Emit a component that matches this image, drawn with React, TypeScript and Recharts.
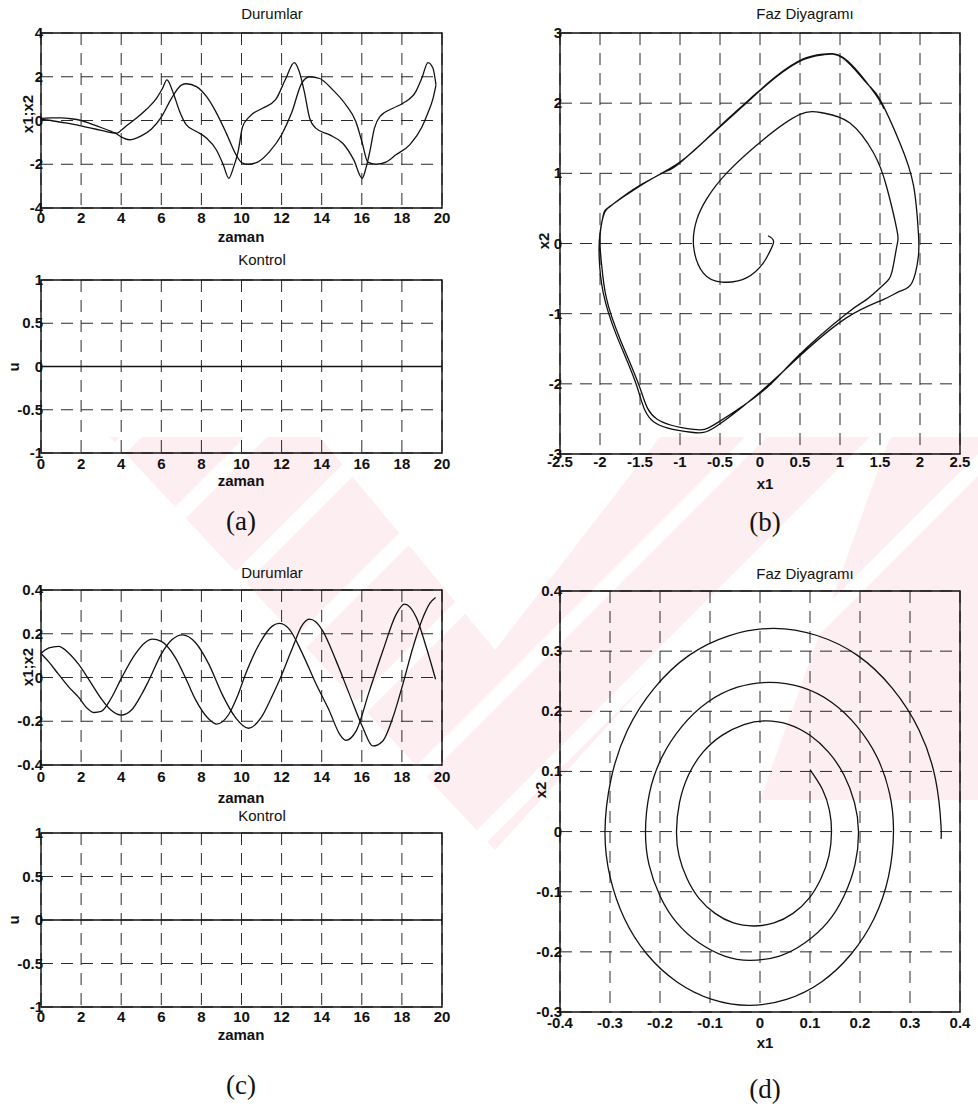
import { CartesianGrid, Line, LineChart, ReferenceArea, XAxis, YAxis } from "recharts";

type Pt = [number, number];

// axis ticks
const timeTicks = [0, 2, 4, 6, 8, 10, 12, 14, 16, 18, 20];
const stateTicksA = [-4, -2, 0, 2, 4];
const controlTicks = [-1, -0.5, 0, 0.5, 1];
const phaseTicksBX = [-2.5, -2, -1.5, -1, -0.5, 0, 0.5, 1, 1.5, 2, 2.5];
const phaseTicksBY = [-3, -2, -1, 0, 1, 2, 3];
const stateTicksC = [-0.4, -0.2, 0, 0.2, 0.4];
const phaseTicksDX = [-0.4, -0.3, -0.2, -0.1, 0, 0.1, 0.2, 0.3, 0.4];
const phaseTicksDY = [-0.3, -0.2, -0.1, 0, 0.1, 0.2, 0.3, 0.4];

// (a) states over time [t, value]
const aX1: Pt[] = [
  [0, 0.1], [0.5, 0.12], [1, 0.12], [1.5, 0.08], [2, 0.0], [2.5, -0.15], [3, -0.32],
  [3.5, -0.5], [3.75, -0.6], [4, -0.75], [4.4, -0.88], [5, -0.7], [5.5, -0.4], [6, 0.15],
  [6.5, 1.0], [7, 1.62], [7.25, 1.68], [7.75, 1.55], [8.25, 1.1], [8.75, 0.35], [9.25, -0.6],
  [9.75, -1.6], [10, -1.92], [10.3, -2.0], [10.8, -1.9], [11.4, -1.42], [12, -0.65], [12.5, 0.35],
  [13, 1.7], [13.4, 2.0], [13.9, 1.92], [14.5, 1.45], [15.2, 0.72], [15.7, -0.05], [16, -0.95],
  [16.3, -1.9], [16.7, -2.0], [17.2, -1.9], [17.7, -1.57], [18.4, -1.1], [19, -0.3], [19.3, 0.35],
  [19.55, 1.0], [19.7, 1.62],
];
const aX2: Pt[] = [
  [0, 0.05], [0.5, 0.0], [1, -0.08], [1.5, -0.15], [2, -0.25], [2.5, -0.35], [3, -0.45],
  [3.5, -0.55], [3.75, -0.58], [4, -0.45], [4.25, -0.25], [4.75, 0.1], [5.25, 0.5], [5.75, 1.0],
  [6.05, 1.45], [6.28, 1.86], [6.6, 1.25], [6.9, 0.45], [7.25, -0.2], [7.75, -0.5], [8.25, -0.8],
  [8.75, -1.35], [9.08, -2.0], [9.37, -2.64], [9.58, -2.2], [9.83, -1.42], [10.05, -0.3],
  [10.4, 0.18], [11.05, 0.56], [11.7, 0.95], [12.2, 1.9], [12.63, 2.65], [12.88, 2.24],
  [13.13, 1.33], [13.4, 0.1], [13.7, -0.35], [14.4, -0.66], [15.05, -1.04], [15.6, -1.8],
  [16.02, -2.64], [16.2, -2.2], [16.4, -1.42], [16.63, -0.35], [16.9, 0.18], [17.55, 0.56],
  [18.05, 0.79], [18.7, 1.33], [19.0, 1.95], [19.3, 2.65], [19.55, 2.39], [19.7, 1.63],
];

// control signal, zero throughout
const uPath: Pt[] = [[0, 0], [20, 0]];

// (b) phase trajectory [x1, x2]
const bPath: Pt[] = [
  [0.1, 0.11], [0.17, 0.03], [0.12, -0.12], [0.04, -0.28], [-0.17, -0.49], [-0.48, -0.55],
  [-0.71, -0.42], [-0.83, -0.04], [-0.79, 0.34], [-0.67, 0.63], [-0.42, 1.0], [0.04, 1.48],
  [0.5, 1.84], [0.79, 1.86], [1.12, 1.72], [1.42, 1.29], [1.58, 0.82], [1.71, 0.2],
  [1.71, -0.04], [1.65, -0.4], [1.55, -0.58], [1.33, -0.8], [1.08, -1.0], [0.46, -1.62],
  [0.04, -2.1], [-0.54, -2.56], [-0.83, -2.65], [-1.29, -2.5], [-1.5, -2.06], [-1.75, -1.36],
  [-1.92, -0.78], [-1.98, -0.3], [-2.0, 0.1], [-1.96, 0.4], [-1.875, 0.53], [-1.5, 0.82],
  [-1.17, 1.03], [-1.0, 1.15], [-0.54, 1.62], [-0.125, 2.05], [0.21, 2.38], [0.54, 2.62],
  [0.79, 2.69], [1.04, 2.64], [1.33, 2.29], [1.5, 2.05], [1.75, 1.43], [1.92, 0.82],
  [1.98, 0.15], [1.98, -0.18], [1.9, -0.56], [1.75, -0.68], [1.54, -0.8], [1.08, -1.06],
  [0.5, -1.6], [0.04, -2.08], [-0.54, -2.6], [-0.86, -2.69], [-1.33, -2.54], [-1.54, -2.03],
  [-1.79, -1.32], [-1.96, -0.7], [-2.01, -0.2], [-2.0, 0.15], [-1.95, 0.42], [-1.85, 0.55],
  [-1.5, 0.83], [-1.0, 1.16], [-0.54, 1.63], [-0.125, 2.06], [0.21, 2.39], [0.54, 2.63],
  [0.79, 2.7], [1.04, 2.65], [1.33, 2.3], [1.5, 2.03], [1.55, 1.92],
];

// (c) states over time [t, value]
const cX1: Pt[] = [
  [0, 0.11], [0.4, 0.135], [0.87, 0.142], [1.4, 0.11], [1.87, 0.061], [2.53, -0.03],
  [3.03, -0.1], [3.5, -0.15], [4.0, -0.172], [4.5, -0.15], [5.0, -0.08], [5.37, -0.015],
  [6.0, 0.107], [6.5, 0.17], [7.05, 0.195], [7.7, 0.16], [8.37, 0.061], [9.03, -0.076],
  [9.7, -0.183], [10.35, -0.232], [11.0, -0.18], [11.5, -0.09], [11.88, -0.015], [12.55, 0.137],
  [13.0, 0.235], [13.38, 0.267], [13.7, 0.255], [14.05, 0.213], [14.72, 0.076], [15.38, -0.076],
  [16.05, -0.229], [16.55, -0.313], [17.05, -0.29], [17.55, -0.183], [18.05, -0.03],
  [18.55, 0.137], [19.05, 0.274], [19.4, 0.34], [19.68, 0.366],
];
const cX2: Pt[] = [
  [0, 0.11], [0.4, 0.07], [0.87, 0.015], [1.4, -0.045], [1.87, -0.09], [2.3, -0.14],
  [2.65, -0.16], [3.0, -0.155], [3.5, -0.095], [4.0, -0.005], [4.7, 0.107], [5.2, 0.16],
  [5.55, 0.175], [6.0, 0.165], [6.7, 0.091], [7.2, 0.0], [7.7, -0.1], [8.37, -0.19],
  [8.75, -0.213], [9.37, -0.168], [9.8, -0.085], [10.2, 0.015], [10.88, 0.152], [11.55, 0.236],
  [11.88, 0.247], [12.38, 0.221], [13.05, 0.107], [13.72, -0.03], [14.38, -0.152], [14.9, -0.26],
  [15.2, -0.287], [15.72, -0.244], [16.38, -0.061], [17.05, 0.122], [17.72, 0.29], [18.13, 0.335],
  [18.72, 0.274], [19.22, 0.137], [19.68, -0.008],
];

// (d) phase trajectory [x1, x2], spiralling outward clockwise
const dPath: Pt[] = [
  [0.1, 0.103], [0.125, 0.07], [0.139, 0.035], [0.143, 0.0],
  [0.138, -0.04], [0.122, -0.078], [0.098, -0.111], [0.066, -0.136], [0.028, -0.152],
  [-0.013, -0.157], [-0.053, -0.152], [-0.09, -0.136], [-0.122, -0.111], [-0.146, -0.078],
  [-0.162, -0.04], [-0.167, 0.0],
  [-0.161, 0.048], [-0.143, 0.094], [-0.114, 0.132], [-0.076, 0.16], [-0.032, 0.178],
  [0.012, 0.184], [0.058, 0.178], [0.1, 0.16], [0.137, 0.132], [0.168, 0.094], [0.189, 0.048],
  [0.197, 0.0],
  [0.19, -0.055], [0.168, -0.107], [0.135, -0.151], [0.09, -0.185], [0.039, -0.207],
  [-0.02, -0.214], [-0.071, -0.207], [-0.122, -0.185], [-0.167, -0.151], [-0.2, -0.107],
  [-0.222, -0.055], [-0.229, 0.0],
  [-0.221, 0.064], [-0.196, 0.124], [-0.156, 0.175], [-0.105, 0.215], [-0.045, 0.24],
  [0.019, 0.248], [0.083, 0.24], [0.143, 0.215], [0.194, 0.175], [0.234, 0.124],
  [0.259, 0.064], [0.267, 0.0],
  [0.257, -0.075], [0.228, -0.145], [0.182, -0.204], [0.123, -0.25], [0.053, -0.279],
  [-0.022, -0.289], [-0.096, -0.279], [-0.166, -0.25], [-0.226, -0.204], [-0.271, -0.145],
  [-0.3, -0.075], [-0.31, 0.0],
  [-0.298, 0.087], [-0.265, 0.169], [-0.211, 0.239], [-0.142, 0.293], [-0.061, 0.326],
  [0.027, 0.338], [0.114, 0.326], [0.195, 0.293], [0.264, 0.239], [0.318, 0.169],
  [0.351, 0.087], [0.362, 0.01], [0.362, -0.012],
];

const SANS = '"Liberation Sans", Arial, sans-serif';
const SERIF = '"Liberation Serif", "Times New Roman", serif';
const INK = "#111";

const toRows = (pts: Pt[]) => pts.map(([x, y]) => ({ x, y }));

const PAD = { l: 50, r: 30, t: 10, b: 30 };

interface PlotProps {
  x: number;
  y: number;
  w: number;
  h: number;
  xTicks: number[];
  yTicks: number[];
  series: Pt[][];
  curve?: "monotone" | "natural";
  gap?: number;
}

function Plot({ x, y, w, h, xTicks, yTicks, series, curve = "monotone", gap = 10 }: PlotProps) {
  const xMin = xTicks[0];
  const xMax = xTicks[xTicks.length - 1];
  const yMin = yTicks[0];
  const yMax = yTicks[yTicks.length - 1];
  const xTick = (p: any) => (
    <text x={p.x} y={p.y + gap + 5} textAnchor="middle" fontFamily={SANS} fontSize={15} fontWeight={700} fill={INK}>
      {String(p.payload.value)}
    </text>
  );
  const yTick = (p: any) => (
    <text x={p.x + 2} y={p.y + 5} textAnchor="end" fontFamily={SANS} fontSize={15} fontWeight={700} fill={INK}>
      {String(p.payload.value)}
    </text>
  );
  return (
    <div style={{ position: "absolute", left: x - PAD.l, top: y - PAD.t }}>
      <LineChart
        width={w + PAD.l + PAD.r}
        height={h + PAD.t + PAD.b}
        margin={{ top: PAD.t, right: PAD.r, left: 0, bottom: 0 }}
      >
        <CartesianGrid stroke="#2a2a2a" strokeDasharray="12 8" strokeWidth={1} />
        <XAxis
          type="number"
          dataKey="x"
          domain={[xMin, xMax]}
          ticks={xTicks}
          interval={0}
          height={PAD.b}
          tickSize={0}
          tickMargin={0}
          axisLine={false}
          tickLine={false}
          tick={xTick}
          allowDataOverflow
        />
        <YAxis
          type="number"
          domain={[yMin, yMax]}
          ticks={yTicks}
          interval={0}
          width={PAD.l}
          tickSize={0}
          tickMargin={0}
          axisLine={false}
          tickLine={false}
          tick={yTick}
          allowDataOverflow
        />
        <ReferenceArea
          x1={xMin}
          x2={xMax}
          y1={yMin}
          y2={yMax}
          fill="none"
          fillOpacity={0}
          stroke={INK}
          strokeWidth={1.4}
          ifOverflow="visible"
        />
        {series.map((pts, i) => (
          <Line
            key={i}
            data={toRows(pts)}
            dataKey="y"
            type={curve}
            stroke={INK}
            strokeWidth={1.3}
            dot={false}
            activeDot={false}
            isAnimationActive={false}
          />
        ))}
      </LineChart>
    </div>
  );
}

interface TextProps {
  x: number;
  y: number;
  text: string;
  size?: number;
  bold?: boolean;
  serif?: boolean;
  rotate?: boolean;
}

function Caption({ x, y, text, size = 15, bold = false, serif = false, rotate = false }: TextProps) {
  return (
    <div
      style={{
        position: "absolute",
        left: x,
        top: y,
        transform: `translate(-50%, -50%)${rotate ? " rotate(-90deg)" : ""}`,
        whiteSpace: "nowrap",
        fontFamily: serif ? SERIF : SANS,
        fontSize: size,
        fontWeight: bold ? 700 : 400,
        lineHeight: 1,
        color: INK,
      }}
    >
      {text}
    </div>
  );
}

// faint striped emblem printed behind the figure
function Watermark() {
  const stripes = Array.from({ length: 12 }, (_, i) => -380 + i * 125);
  return (
    <svg width={978} height={1112} style={{ position: "absolute", left: 0, top: 0 }}>
      <polygon points="110,437 320,437 495,650 660,437 870,437 495,850" fill="#fdeef1" />
      <polygon points="890,437 978,437 978,800 760,800" fill="#fdeef1" />
      {stripes.map((s) => (
        <polygon key={s} points={`${s},437 ${s + 22},437 ${s + 22 - 443},880 ${s - 443},880`} fill="#fff" />
      ))}
    </svg>
  );
}

export default function App() {
  return (
    <div style={{ position: "absolute", left: 0, top: 0, width: 978, height: 1112, background: "#fff", overflow: "hidden" }}>
      <Watermark />

      {/* (a) */}
      <Caption x={272} y={13} text="Durumlar" />
      <Plot x={41} y={33} w={401} h={175} xTicks={timeTicks} yTicks={stateTicksA} series={[aX1, aX2]} gap={10} />
      <Caption x={27} y={114} text="x1;x2" bold rotate />
      <Caption x={241} y={236} text="zaman" bold />
      <Caption x={262} y={259} text="Kontrol" />
      <Plot x={41} y={280} w={401} h={173} xTicks={timeTicks} yTicks={controlTicks} series={[uPath]} gap={11} />
      <Caption x={13} y={367} text="u" bold rotate />
      <Caption x={241} y={480} text="zaman" bold />
      <Caption x={241} y={521} text="(a)" size={27} serif />

      {/* (b) */}
      <Caption x={805} y={13} text="Faz Diyagramı" />
      <Plot x={560} y={33} w={400} h={421} xTicks={phaseTicksBX} yTicks={phaseTicksBY} series={[bPath]} curve="natural" gap={8} />
      <Caption x={543} y={241} text="x2" bold rotate />
      <Caption x={765} y={483} text="x1" bold />
      <Caption x={765} y={522} text="(b)" size={27} serif />

      {/* (c) */}
      <Caption x={272} y={572} text="Durumlar" />
      <Plot x={41} y={590} w={401} h={175} xTicks={timeTicks} yTicks={stateTicksC} series={[cX1, cX2]} gap={12} />
      <Caption x={27} y={667} text="x1;x2" bold rotate />
      <Caption x={241} y={797} text="zaman" bold />
      <Caption x={262} y={815} text="Kontrol" />
      <Plot x={41} y={833} w={401} h={174} xTicks={timeTicks} yTicks={controlTicks} series={[uPath]} gap={10} />
      <Caption x={13} y={920} text="u" bold rotate />
      <Caption x={241} y={1034} text="zaman" bold />
      <Caption x={241} y={1085} text="(c)" size={27} serif />

      {/* (d) */}
      <Caption x={805} y={573} text="Faz Diyagramı" />
      <Plot x={560} y={591} w={400} h={421} xTicks={phaseTicksDX} yTicks={phaseTicksDY} series={[dPath]} curve="natural" gap={11} />
      <Caption x={540} y={790} text="x2" bold rotate />
      <Caption x={765} y={1042} text="x1" bold />
      <Caption x={765} y={1089} text="(d)" size={27} serif />
    </div>
  );
}
